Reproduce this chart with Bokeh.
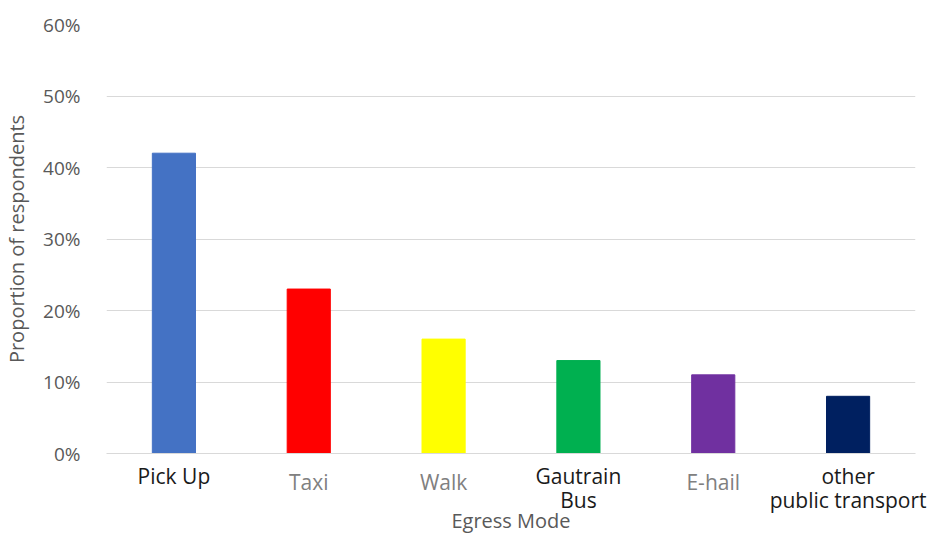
from bokeh.plotting import figure
from bokeh.models import (ColumnDataSource, FactorRange, Range1d, NumeralTickFormatter,
                          FixedTicker, CategoricalAxis)
from bokeh.embed import file_html
from bokeh.resources import INLINE

categories = ["Pick Up", "Taxi", "Walk", "Gautrain Bus", "E-hail", "other public transport"]
label_line1 = ["Pick Up", "Taxi", "Walk", "Gautrain", "E-hail", "other"]
label_line2 = ["", "", "", "Bus", "", "public transport"]
label_is_dark = [True, False, False, True, False, True]
values = [0.42, 0.23, 0.16, 0.13, 0.11, 0.08]
bar_colors = ["#4472C4", "#FF0000", "#FFFF00", "#00B050", "#7030A0", "#002060"]
y_ticks = [0, 0.1, 0.2, 0.3, 0.4, 0.5, 0.6]

FONT = "Open Sans"
DARK = "#1a1a1a"
GRAY = "#808080"


def row_factors(texts, keep):
    # one factor per category slot; hidden slots get unique blank names
    return [t if (k and t) else " " * (i + 1) for i, (t, k) in enumerate(zip(texts, keep))]


p = figure(width=930, height=538, x_range=FactorRange(*categories, range_padding=0),
           y_range=Range1d(0, 0.6), output_backend="svg", toolbar_location=None,
           min_border_left=105, min_border_right=15, min_border_top=24, min_border_bottom=85)
p.outline_line_color = None
p.background_fill_color = "white"
p.border_fill_color = "white"

p.extra_x_ranges = {
    "dark1": FactorRange(*row_factors(label_line1, label_is_dark), range_padding=0),
    "gray1": FactorRange(*row_factors(label_line1, [not d for d in label_is_dark]), range_padding=0),
    "line2": FactorRange(*row_factors(label_line2, [True] * len(label_line2)), range_padding=0),
}

src = ColumnDataSource(dict(cat=categories, val=values, color=bar_colors))
p.vbar(x="cat", top="val", width=0.32, color="color", source=src)

# y axis
p.yaxis.ticker = FixedTicker(ticks=y_ticks)
p.yaxis.formatter = NumeralTickFormatter(format="0%")
p.yaxis.axis_line_color = None
p.yaxis.major_tick_line_color = None
p.yaxis.minor_tick_line_color = None
p.yaxis.major_label_text_font = FONT
p.yaxis.major_label_text_font_size = "19px"
p.yaxis.major_label_text_color = "#595959"
p.yaxis.major_label_standoff = 20
p.yaxis.axis_label = "Proportion of respondents"
p.yaxis.axis_label_text_font = FONT
p.yaxis.axis_label_text_font_size = "20px"
p.yaxis.axis_label_text_font_style = "normal"
p.yaxis.axis_label_text_color = "#595959"
p.yaxis.axis_label_standoff = 10


def style_cat_axis(ax, color, standoff, line_color=None):
    ax.axis_line_color = line_color
    ax.major_tick_line_color = None
    ax.minor_tick_line_color = None
    ax.major_tick_out = 0
    ax.major_tick_in = 0
    ax.major_label_text_font = FONT
    ax.major_label_text_font_size = "21px"
    ax.major_label_text_color = color
    ax.major_label_standoff = standoff


# row 1, dark labels (main x axis)
xa = p.xaxis[0]
xa.x_range_name = "dark1"
style_cat_axis(xa, DARK, 8, line_color="#d9d9d9")

# row 1, gray labels (overlapping the first row through a negative standoff)
xb = CategoricalAxis(x_range_name="gray1")
style_cat_axis(xb, GRAY, -25)
p.add_layout(xb, "below")

# row 2 (second lines) plus the axis title
xc = CategoricalAxis(x_range_name="line2")
style_cat_axis(xc, DARK, -13)
xc.axis_label = "Egress Mode"
xc.axis_label_text_font = FONT
xc.axis_label_text_font_size = "20px"
xc.axis_label_text_font_style = "normal"
xc.axis_label_text_color = "#595959"
xc.axis_label_standoff = -10
p.add_layout(xc, "below")

p.xgrid.grid_line_color = None
p.ygrid.grid_line_color = "#d9d9d9"
p.ygrid.grid_line_width = 1

open("out.html", "w").write(file_html(p, INLINE))
